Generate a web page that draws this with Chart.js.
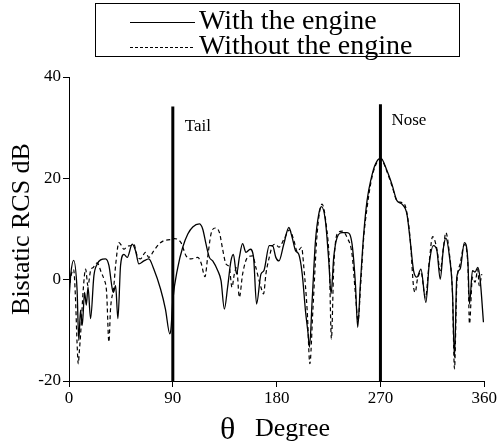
<!DOCTYPE html>
<html>
<head>
<meta charset="utf-8">
<script src="https://cdn.jsdelivr.net/npm/chart.js@4.4.1/dist/chart.umd.min.js"></script>
<style>
  body { margin: 0; background: #fff; }
  canvas { display: block; }
</style>
</head>
<body>
<canvas id="rcs" width="498" height="443"></canvas>
<script>
// readings (degrees, dB)
const withDeg = [0, 1.5, 4, 7, 8.5, 10, 11.5, 13.5, 15, 16.5, 18.7, 21.6, 24.5, 27.4, 31.7, 34.6, 37.5, 38.5, 40.4, 42.4, 44.7, 47.6, 50.5, 54.8, 57.7, 60.6, 64.9, 69.2, 73.5, 79.3, 83.6, 87.4, 88.5, 90, 94.3, 98.6, 103, 107.3, 113, 115.9, 118.8, 121.7, 124.6, 128.9, 131.8, 134.7, 137.5, 140.4, 142.5, 145.3, 147.7, 150.5, 153.4, 157.2, 160, 162.6, 166.4, 169, 173.6, 176.5, 179.3, 182, 186.2, 190.6, 193.5, 196.4, 199.2, 202.2, 205, 207.3, 208.5, 210.8, 213.7, 216.5, 218.9, 222.3, 225.2, 227.2, 229.5, 232.4, 236.8, 241.1, 245.4, 248.3, 250.3, 252.6, 255.5, 258.4, 262, 265.6, 270.3, 275.7, 280, 284.3, 288.7, 293, 295.8, 298.7, 301.6, 305.1, 309.4, 312.3, 316, 319, 321.8, 324.7, 326.7, 329.6, 332.4, 334.2, 336.2, 339.1, 342.8, 345.8, 347.2, 349.8, 352, 354.4, 356.4, 359.3];
const withDb = [-4, 1, 3.8, -2, -12, -6, -9, -2.5, -5, -1.5, -7.7, 0.8, 3.1, 3.9, 4.1, 2.8, -1.8, -2.5, -1.2, -7.7, 2.8, 5, 4.4, 7, 5.7, 3.1, 3.7, 4.1, 2.1, -1.8, -5.8, -10.7, -9.5, -4.1, 2.4, 6.4, 9, 10.4, 11, 10, 7, 4.4, 3.7, 1.8, -0.2, -5.8, -1.5, 3.7, 5, 1.1, 4.4, 7.1, 5.4, 6, 4.4, -4.8, 1.1, 1.8, 6.7, 6.7, 4.4, 3.7, 7, 10.3, 8.3, 5.7, 5, 1.1, -6.1, -10.7, -13.3, -4.1, 7.7, 12.9, 14.4, 11.6, 3.7, -2.8, 4.4, 8.3, 9.3, 9.3, 7, -0.8, -9.4, -0.8, 9, 15.6, 20, 22.8, 24, 21.5, 18.8, 15.6, 14.9, 12.9, 7.7, 1.8, 0.5, 2.1, -4.5, 3.1, 6.7, 5.7, 0.1, 6.4, 8.2, 5, -2.2, -15.3, 0.5, 2.1, 7.3, 3.7, -4.8, 1.8, 1.5, 2.4, 0.1, -8.4];

const withoutDeg = [0, 2, 4, 5.5, 7.2, 8, 9, 10, 12.4, 14.4, 16.4, 18.7, 21, 24.5, 28, 30.3, 32.6, 34.6, 36, 38.8, 40.4, 43.3, 45.3, 47.6, 50.5, 53.4, 56.2, 59.1, 62, 66.3, 69.2, 73.5, 77.9, 82.2, 88, 91.4, 97.1, 101.5, 105.8, 111.6, 114.5, 117.9, 120.2, 123.1, 126.9, 130.4, 133.2, 136.1, 139, 141.3, 143.3, 145.3, 147.7, 150.5, 154.8, 159.2, 162, 166.4, 168.7, 170.7, 173.6, 176.5, 179, 182, 186.2, 191.2, 195, 198, 201.6, 203.6, 206.5, 208.8, 211.4, 215.1, 219.4, 222.9, 225.7, 227.5, 229.5, 232.4, 236.8, 241.1, 245.4, 248.3, 250.6, 252.9, 255.5, 258.4, 262, 265.6, 270.3, 275.7, 280, 284.3, 288.7, 292, 295.8, 298.7, 300.2, 302, 305.1, 309, 312.3, 315.2, 319, 321.8, 324.7, 326.7, 329.6, 332.4, 334.2, 336.2, 339.1, 342.8, 345.8, 347.2, 349.8, 352, 354.4, 355.6, 357.9];
const withoutDb = [-2, 1, 2, -3, -13.6, -16.6, -14, -11, -1.8, 2.1, -1.2, 1.8, 2.4, 3.3, 1.4, 0.1, -2.5, -12.3, -5.8, -1.4, 2.8, 7.3, 6.8, 6, 6.6, 6.7, 7, 4.7, 4.1, 5.4, 4.4, 5.7, 7, 7.7, 7.9, 8.1, 7.3, 4.7, 4.1, 4.4, 3.3, 0.6, 4.4, 9, 10.2, 9.3, 6, 3.1, 2.4, -1.5, 1.1, 2.4, -3.5, 1.1, 4.4, 4.7, 2.4, -1.5, -2.8, 1.1, 4.4, 6.7, 7, 6.4, 7.9, 9.8, 7.7, 5.5, 6.4, 2.4, -6.1, -16.6, -6.1, 9, 14.9, 11, 3.2, -11.7, 2.4, 9, 9.6, 8.3, 5, -2.8, -8.1, -0.8, 8.3, 14.2, 19.5, 22.5, 23.8, 21.3, 18.5, 15.6, 15.2, 14.2, 8, -1.4, -2.5, 0, 1.5, -3.6, 3.5, 8.5, 6, 1.8, 6.5, 9.3, 5.5, -2.5, -17.6, -1, 3.1, 6.9, 3, -8.7, 0.5, -0.5, 2, -1.2, 1.1];

// marker lines: angle, top in dB, label
const markerDeg = [90, 270];
const markerTop = [34.2, 34.6];
const markerText = ['Tail', 'Nose'];

const xTicks = [0, 90, 180, 270, 360];
const yTicks = [-20, 0, 20, 40];

const serif = '"Liberation Serif", "Times New Roman", serif';

const toPoints = (xs, ys) => xs.map((x, i) => ({ x: x, y: ys[i] }));

const datasets = [
  {
    label: 'With the engine',
    data: toPoints(withDeg, withDb),
    borderColor: '#000',
    borderWidth: 1.3,
    pointRadius: 0,
    cubicInterpolationMode: 'monotone'
  },
  {
    label: 'Without the engine',
    data: toPoints(withoutDeg, withoutDb),
    borderColor: '#000',
    borderWidth: 1.2,
    borderDash: [4, 3],
    pointRadius: 0,
    cubicInterpolationMode: 'monotone'
  }
];
markerDeg.forEach((d, i) => {
  datasets.push({
    label: markerText[i],
    data: [{ x: d, y: -20 }, { x: d, y: markerTop[i] }],
    borderColor: '#000',
    borderWidth: 3,
    pointRadius: 0
  });
});

const decorations = {
  id: 'decorations',
  afterDraw(chart) {
    const ctx = chart.ctx;
    const xs = chart.scales.x;
    ctx.save();
    ctx.fillStyle = '#000';
    ctx.strokeStyle = '#000';

    // legend box
    ctx.lineWidth = 1;
    ctx.strokeRect(95.5, 3.5, 364, 53);
    ctx.beginPath();
    ctx.moveTo(130, 22.5);
    ctx.lineTo(195, 22.5);
    ctx.stroke();
    ctx.setLineDash([3, 2]);
    ctx.beginPath();
    ctx.moveTo(130, 47.5);
    ctx.lineTo(195, 47.5);
    ctx.stroke();
    ctx.setLineDash([]);
    ctx.font = '28px ' + serif;
    ctx.textBaseline = 'middle';
    ctx.textAlign = 'left';
    ctx.fillText(datasets[0].label, 199, 22);
    ctx.fillText(datasets[1].label, 199, 47);

    // Tail / Nose labels
    ctx.font = '17px ' + serif;
    ctx.textBaseline = 'alphabetic';
    ctx.fillText(markerText[0], xs.getPixelForValue(markerDeg[0]) + 12, 131);
    ctx.fillText(markerText[1], xs.getPixelForValue(markerDeg[1]) + 11, 125);

    // x axis title
    ctx.font = '32px ' + serif;
    ctx.fillText('\u03b8', 220, 439);
    ctx.font = '26px ' + serif;
    ctx.fillText('Degree', 255, 436);
    ctx.restore();
  }
};

new Chart(document.getElementById('rcs'), {
  type: 'line',
  data: { datasets: datasets },
  options: {
    responsive: false,
    animation: false,
    layout: { padding: { top: 77, right: 13, left: 0, bottom: 0 } },
    plugins: { legend: { display: false }, tooltip: { enabled: false } },
    scales: {
      x: {
        type: 'linear',
        min: 0,
        max: 360,
        afterBuildTicks: (s) => { s.ticks = xTicks.map(v => ({ value: v })); },
        afterFit: (s) => { s.height = 62; },
        ticks: { color: '#000', font: { family: serif, size: 17 }, padding: 1, maxRotation: 0 },
        grid: { drawOnChartArea: false, drawTicks: true, tickLength: 6, color: '#000' },
        border: { color: '#000', width: 1 }
      },
      y: {
        min: -20,
        max: 40,
        afterBuildTicks: (s) => { s.ticks = yTicks.map(v => ({ value: v })); },
        afterFit: (s) => { s.width = 69; },
        ticks: { color: '#000', font: { family: serif, size: 17 }, padding: 2 },
        grid: { drawOnChartArea: false, drawTicks: true, tickLength: 6, color: '#000' },
        border: { color: '#000', width: 1 },
        title: {
          display: true,
          text: 'Bistatic RCS dB',
          color: '#000',
          font: { family: serif, size: 26 },
          padding: { top: 7, bottom: 0 }
        }
      }
    }
  },
  plugins: [decorations]
});
</script>
</body>
</html>
